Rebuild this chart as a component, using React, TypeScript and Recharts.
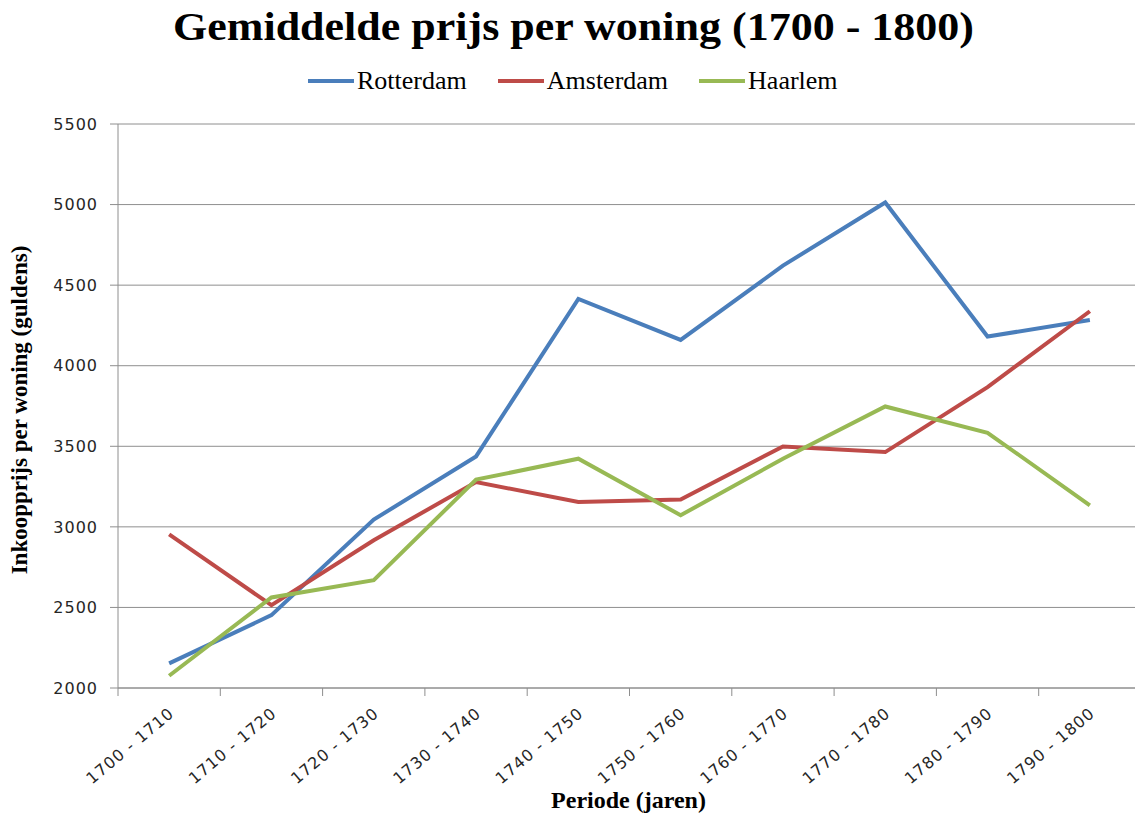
import { LineChart, Line, XAxis, YAxis, CartesianGrid } from 'recharts';

const periods = [
  '1700 - 1710', '1710 - 1720', '1720 - 1730', '1730 - 1740', '1740 - 1750',
  '1750 - 1760', '1760 - 1770', '1770 - 1780', '1780 - 1790', '1790 - 1800',
];
const rotterdam = [2153, 2452, 3045, 3437, 4414, 4160, 4621, 5013, 4181, 4284];
const amsterdam = [2954, 2514, 2917, 3278, 3154, 3169, 3499, 3464, 3867, 4338];
const haarlem = [2076, 2562, 2669, 3293, 3423, 3072, 3423, 3747, 3584, 3134];
const yTicks = [2000, 2500, 3000, 3500, 4000, 4500, 5000, 5500];

const series = [
  { key: 'Rotterdam', color: '#4a7ebb' },
  { key: 'Amsterdam', color: '#be4b48' },
  { key: 'Haarlem', color: '#98b954' },
];

const data = periods.map((p, i) => ({
  period: p,
  Rotterdam: rotterdam[i],
  Amsterdam: amsterdam[i],
  Haarlem: haarlem[i],
}));

const CHART_W = 1141;
const Y_AXIS_W = 118;
const PLOT_W = CHART_W - Y_AXIS_W;
const BAND = PLOT_W / periods.length;
const AXIS_GRAY = '#8e8e8e';
const tickFont = { fontFamily: '"DejaVu Sans", Verdana, sans-serif', fontSize: 16, letterSpacing: 1 };
const serif = '"Liberation Serif", "Times New Roman", serif';

const XTick = ({ x, y, payload, index }: any) => (
  <g>
    <line x1={x - BAND / 2} x2={x - BAND / 2} y1={y} y2={y + 8} stroke={AXIS_GRAY} />
    {index === periods.length - 1 && (
      <line x1={x + BAND / 2} x2={x + BAND / 2} y1={y} y2={y + 8} stroke={AXIS_GRAY} />
    )}
    <text
      x={0}
      y={0}
      transform={`translate(${x + 6},${y + 27}) rotate(-40)`}
      textAnchor="end"
      fill="#262626"
      style={tickFont}
    >
      {payload.value}
    </text>
  </g>
);

const YTick = ({ x, y, payload }: any) => (
  <text x={x} y={y} dy="0.36em" textAnchor="end" fill="#262626" style={tickFont}>
    {payload.value}
  </text>
);

export default function App() {
  return (
    <div style={{ position: 'fixed', left: 0, top: 0, width: 1135, height: 816, overflow: 'hidden', background: '#fff' }}>
      <div
        style={{
          position: 'absolute', left: 0, width: 1147, top: 5, textAlign: 'center',
          fontFamily: serif, fontWeight: 'bold', fontSize: 40, lineHeight: '44px', color: '#000',
          transform: 'scaleX(1.1)',
        }}
      >
        Gemiddelde prijs per woning (1700 - 1800)
      </div>

      <div
        style={{
          position: 'absolute', left: 308, top: 66, display: 'flex', alignItems: 'center',
          fontFamily: serif, fontSize: 26, lineHeight: '30px', color: '#000',
        }}
      >
        {series.map(s => (
          <div key={s.key} style={{ display: 'flex', alignItems: 'center', marginRight: 31 }}>
            <span style={{ display: 'inline-block', width: 46, height: 4, background: s.color, marginRight: 3 }} />
            <span>{s.key}</span>
          </div>
        ))}
      </div>

      <LineChart
        width={CHART_W}
        height={816}
        data={data}
        margin={{ top: 124, right: 0, bottom: 0, left: 0 }}
      >
        <CartesianGrid vertical={false} stroke={AXIS_GRAY} strokeWidth={1} />
        <XAxis
          dataKey="period"
          height={128}
          interval={0}
          tickLine={false}
          tickSize={0}
          tickMargin={0}
          padding={{ left: BAND / 2, right: BAND / 2 }}
          stroke={AXIS_GRAY}
          tick={<XTick />}
        />
        <YAxis
          width={Y_AXIS_W}
          domain={[2000, 5500]}
          ticks={yTicks}
          interval={0}
          tickSize={8}
          tickMargin={12}
          stroke={AXIS_GRAY}
          tick={<YTick />}
        />
        {series.map(s => (
          <Line
            key={s.key}
            type="linear"
            dataKey={s.key}
            stroke={s.color}
            strokeWidth={4}
            dot={false}
            activeDot={false}
            isAnimationActive={false}
          />
        ))}
      </LineChart>

      <div
        style={{
          position: 'absolute', left: 30, top: 410, transform: 'rotate(-90deg)',
          transformOrigin: '0 0', whiteSpace: 'nowrap',
        }}
      >
        <div
          style={{
            transform: 'translate(-50%, -24px)', fontFamily: serif, fontWeight: 'bold',
            fontSize: 23, lineHeight: '28px', color: '#000',
          }}
        >
          Inkoopprijs per woning (guldens)
        </div>
      </div>

      <div
        style={{
          position: 'absolute', left: 0, width: 1257, top: 786, textAlign: 'center',
          fontFamily: serif, fontWeight: 'bold', fontSize: 24, lineHeight: '28px', color: '#000',
        }}
      >
        Periode (jaren)
      </div>
    </div>
  );
}
